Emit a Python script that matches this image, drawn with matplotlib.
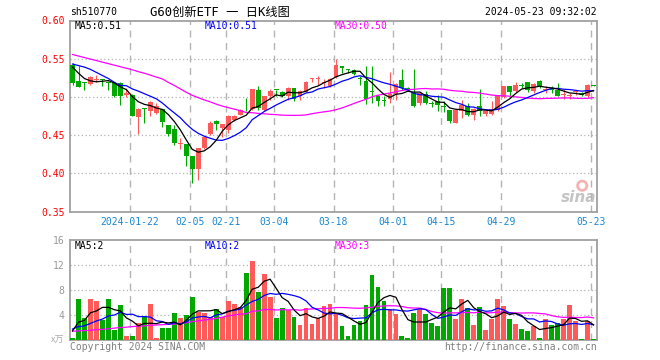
import matplotlib
matplotlib.use('Agg')
import matplotlib.pyplot as plt
import numpy as np
import pandas as pd

plt.rcParams['font.family'] = ['DejaVu Sans Mono', 'Noto Sans CJK SC']

# ---------------- data ----------------
holidays = ['2024-02-09', '2024-02-12', '2024-02-13', '2024-02-14', '2024-02-15',
            '2024-02-16', '2024-04-04', '2024-04-05', '2024-05-01', '2024-05-02',
            '2024-05-03']
dates = pd.bdate_range('2024-01-08', '2024-05-23').difference(pd.to_datetime(holidays))

tick_dates = ['2024-01-22', '2024-02-05', '2024-02-21', '2024-03-04', '2024-03-18',
              '2024-04-01', '2024-04-15', '2024-04-29', '2024-05-23']
tick_labels = ['2024-01-22', '02-05', '02-21', '03-04', '03-18',
               '04-01', '04-15', '04-29', '05-23']

opens = [0.542, 0.521, 0.5185, 0.517, 0.522, 0.522, 0.5185, 0.518, 0.518, 0.503,
         0.503, 0.4734, 0.4850, 0.4813, 0.4791, 0.4848, 0.4626, 0.4582, 0.4383, 0.4378,
         0.4225, 0.4051, 0.4325, 0.4508, 0.4691, 0.4595, 0.4573, 0.4695, 0.4769, 0.4826,
         0.4843, 0.5096, 0.4822, 0.5017, 0.5090, 0.5061, 0.5009, 0.5117, 0.5017, 0.5065,
         0.5230, 0.5232, 0.5185, 0.5140, 0.5257, 0.5409, 0.5358, 0.5357, 0.5237, 0.5213,
         0.5067, 0.5009, 0.4945, 0.4974, 0.5039, 0.5226, 0.5105, 0.5050, 0.4920, 0.5039,
         0.4912, 0.4943, 0.4868, 0.4834, 0.4660, 0.4813, 0.4878, 0.4769, 0.4878, 0.4782,
         0.4782, 0.4834, 0.4995, 0.5139, 0.5074, 0.5142, 0.5190, 0.5074, 0.5213, 0.5094,
         0.5098, 0.5096, 0.5026, 0.5015, 0.5058, 0.5052, 0.5009, 0.5152]
highs = [0.544, 0.540, 0.520, 0.527, 0.529, 0.5235, 0.5205, 0.519, 0.519, 0.511,
         0.504, 0.485, 0.4855, 0.4943, 0.4921, 0.4848, 0.4626, 0.4626, 0.4465, 0.4378,
         0.4225, 0.4334, 0.4487, 0.4682, 0.4704, 0.4647, 0.4769, 0.4760, 0.4843, 0.4987,
         0.5104, 0.5148, 0.5017, 0.5104, 0.5092, 0.5074, 0.5130, 0.5117, 0.5096, 0.5204,
         0.5248, 0.5278, 0.5235, 0.5248, 0.5490, 0.5409, 0.5365, 0.5365, 0.5270, 0.5400,
         0.5410, 0.5022, 0.5009, 0.5320, 0.5183, 0.5370, 0.5135, 0.5370, 0.5060, 0.5074,
         0.4943, 0.5022, 0.4943, 0.4834, 0.4834, 0.4965, 0.4921, 0.4856, 0.5104, 0.4813,
         0.4943, 0.5009, 0.5139, 0.5139, 0.5191, 0.5183, 0.5191, 0.5180, 0.5226, 0.5139,
         0.5139, 0.5183, 0.5100, 0.5050, 0.5080, 0.5065, 0.5165, 0.5152]
lows = [0.516, 0.5125, 0.509, 0.516, 0.519, 0.514, 0.5095, 0.5005, 0.490, 0.5005,
        0.4747, 0.4508, 0.4652, 0.4756, 0.4778, 0.4608, 0.4486, 0.4373, 0.4321, 0.4095,
        0.3877, 0.3917, 0.4313, 0.4499, 0.4573, 0.4473, 0.4530, 0.4690, 0.4760, 0.4813,
        0.4826, 0.4835, 0.4813, 0.4965, 0.5009, 0.4996, 0.4965, 0.4952, 0.4965, 0.5061,
        0.5191, 0.5160, 0.5117, 0.5130, 0.5248, 0.5313, 0.5313, 0.5287, 0.5150, 0.4908,
        0.4920, 0.4878, 0.4878, 0.4920, 0.4965, 0.5096, 0.5075, 0.4865, 0.4900, 0.4908,
        0.4865, 0.4813, 0.4804, 0.4660, 0.4660, 0.4726, 0.4747, 0.4704, 0.4756, 0.4756,
        0.4769, 0.4813, 0.4987, 0.5009, 0.5061, 0.5117, 0.5061, 0.5052, 0.5117, 0.5052,
        0.5052, 0.5009, 0.4978, 0.4978, 0.5030, 0.5009, 0.5000, 0.5148]
closes = [0.518, 0.5135, 0.518, 0.5265, 0.523, 0.5215, 0.518, 0.5017, 0.5017, 0.5045,
          0.4756, 0.4848, 0.4845, 0.4935, 0.4887, 0.4669, 0.4508, 0.4391, 0.4390, 0.4225,
          0.4051, 0.4325, 0.4478, 0.4660, 0.4647, 0.4639, 0.4747, 0.4756, 0.4835, 0.4822,
          0.5104, 0.4856, 0.5017, 0.5074, 0.5087, 0.5017, 0.5117, 0.4974, 0.5074, 0.5191,
          0.5236, 0.5240, 0.5190, 0.5235, 0.5413, 0.5378, 0.5354, 0.5300, 0.5233, 0.4974,
          0.5063, 0.4952, 0.4941, 0.5039, 0.5174, 0.5117, 0.5100, 0.4878, 0.5050, 0.4922,
          0.4908, 0.4900, 0.4865, 0.4682, 0.4834, 0.4891, 0.4769, 0.4848, 0.4813, 0.4813,
          0.4848, 0.5009, 0.5139, 0.5065, 0.5161, 0.5139, 0.5090, 0.5170, 0.5139, 0.5096,
          0.5094, 0.5017, 0.5035, 0.5020, 0.5061, 0.5030, 0.5152, 0.5148]
volumes = [0.4, 6.6, 3.6, 6.6, 6.3, 3.25, 6.6, 1.7, 5.65, 0.7,
           0.7, 2.77, 3.67, 5.8, 0.4, 2.0, 2.0, 4.37, 3.6, 4.05,
           6.93, 4.6, 4.37, 3.67, 5.0, 3.67, 6.29, 5.8, 5.33, 10.77,
           12.7, 7.8, 10.66, 6.93, 3.6, 5.17, 4.8, 3.7, 2.45, 5.17,
           2.6, 3.6, 5.5, 5.8, 4.27, 2.27, 0.7, 2.45, 3.15, 5.65,
           10.45, 8.53, 6.3, 4.96, 4.21, 0.7, 0.37, 4.37, 5.0, 4.21,
           2.72, 2.27, 8.37, 8.37, 3.44, 6.6, 5.17, 2.45, 5.33, 1.7,
           3.44, 6.6, 5.5, 3.44, 2.56, 1.81, 1.5, 2.35, 0.37, 3.44,
           2.45, 2.77, 3.44, 5.65, 3.15, 0.2, 3.15, 0.2]

# moving-average values at the left edge (window starts before the chart)
ma5_head = [0.539, 0.531, 0.524, 0.521]
ma10_head = [0.543, 0.541, 0.539, 0.536, 0.532, 0.528, 0.524, 0.519, 0.515]
ma30_head = [0.5555, 0.5535, 0.5515, 0.5495, 0.5475, 0.5455, 0.5435, 0.5415, 0.5395, 0.5375,
             0.5355, 0.533, 0.531, 0.5285, 0.526, 0.5235, 0.519, 0.515, 0.5105, 0.506,
             0.502, 0.499, 0.496, 0.4935, 0.4905, 0.488, 0.486, 0.484, 0.482]
vma5_head = [1.5, 2.9, 3.2, 4.4]
vma10_head = [1.8, 2.2, 2.3, 2.7, 3.1, 3.4, 3.9, 4.05, 4.5]
vma30_head = [1.45, 1.5, 1.55, 1.6, 1.7, 1.75, 1.85, 1.95, 2.05, 2.1,
              2.2, 2.25, 2.3, 2.4, 2.45, 2.5, 2.55, 2.6, 2.7, 2.8,
              3.0, 3.1, 3.25, 3.35, 3.5, 3.7, 3.9, 4.05, 4.2]


def moving_average(values, n, head):
    s = pd.Series(values, dtype=float).rolling(n).mean().to_numpy()
    s[:n - 1] = head
    return s


o = np.array(opens); h = np.array(highs); l = np.array(lows); c = np.array(closes)
v = np.array(volumes)
n = len(c)
ma5 = moving_average(c, 5, ma5_head)
ma10 = moving_average(c, 10, ma10_head)
ma30 = moving_average(c, 30, ma30_head)
vma5 = moving_average(v, 5, vma5_head)
vma10 = moving_average(v, 10, vma10_head)
vma30 = moving_average(v, 30, vma30_head)

RED = '#ff5a5a'
GREEN = '#00a800'
GRID = '#b4b4b4'
FRAME = '#a0a0a0'

W, H = 660, 360
fig = plt.figure(figsize=(6.6, 3.6), dpi=100)
ax = fig.add_axes([70 / W, 1 - 211.5 / H, 527 / W, 191 / H])
axv = fig.add_axes([70 / W, 1 - 340.3 / H, 527 / W, 100 / H])

x = np.arange(n) + 0.42
rising = c > o
colors = np.where(rising, RED, GREEN)
tick_idx = [dates.get_loc(pd.Timestamp(d)) for d in tick_dates]

# ---------------- price panel ----------------
ax.set_xlim(0, n)
ax.set_ylim(0.35, 0.60)
for t in tick_idx:
    ax.axvline(t, color=GRID, lw=1.0, ls=(0, (5, 4)), zorder=1)
for yv in [0.40, 0.45, 0.50, 0.55]:
    ax.axhline(yv, color=GRID, lw=0.9, ls=(0, (1, 2)), zorder=1)

ax.vlines(x, l, h, colors=colors, lw=0.8, zorder=2)
body = np.maximum(np.abs(c - o), 0.0013)
ax.bar(x, body, bottom=np.minimum(o, c), width=0.8, color=colors, lw=0, zorder=3)

ax.plot(x, ma30, color='#ff00ff', lw=0.9, zorder=4)
ax.plot(x, ma10, color='#0000ff', lw=0.9, zorder=5)
ax.plot(x, ma5, color='black', lw=0.9, zorder=6)

ax.set_yticks([0.35, 0.40, 0.45, 0.50, 0.55, 0.60])
ax.set_yticklabels([f'{t:.2f}' for t in [0.35, 0.40, 0.45, 0.50, 0.55, 0.60]],
                   color='#ff0000', fontsize=7)
ax.set_xticks(tick_idx)
ax.set_xticklabels(tick_labels, color='#1a86d0', fontsize=7)
ax.tick_params(length=0, pad=4)
for s in ax.spines.values():
    s.set_color(FRAME)
    s.set_linewidth(1.3)

ax.text(5 / 527, 1 - 5.5 / 191, f'MA5:{ma5[-1]:.2f}', transform=ax.transAxes,
        fontsize=7, color='black', va='center', ha='left')
ax.text(135 / 527, 1 - 5.5 / 191, f'MA10:{ma10[-1]:.2f}', transform=ax.transAxes,
        fontsize=7, color='#0000ff', va='center', ha='left')
ax.text(265 / 527, 1 - 5.5 / 191, f'MA30:{ma30[-1]:.2f}', transform=ax.transAxes,
        fontsize=7, color='#ff00ff', va='center', ha='left')

# sina watermark
ax.scatter([0.972], [0.135], s=45, transform=ax.transAxes, facecolors='none',
           edgecolors='#f4b4b4', lw=2.0, zorder=0)
ax.text(0.965, 0.075, 'sina', transform=ax.transAxes, fontsize=11, color='#c4c4c4',
        fontstyle='italic', fontweight='bold', ha='center', va='center',
        family='DejaVu Sans', zorder=0)

# ---------------- volume panel ----------------
axv.set_xlim(0, n)
axv.set_ylim(0, 16)
for t in tick_idx:
    axv.axvline(t, color=GRID, lw=1.0, ls=(0, (5, 4)), zorder=1)
for yv in [4, 8, 12]:
    axv.axhline(yv, color=GRID, lw=0.9, ls=(0, (1, 2)), zorder=1)
axv.bar(x, v, width=0.8, color=colors, lw=0, zorder=3)
axv.plot(x, vma30, color='#ff00ff', lw=0.9, zorder=4)
axv.plot(x, vma10, color='#0000ff', lw=0.9, zorder=5)
axv.plot(x, vma5, color='black', lw=0.9, zorder=6)
axv.set_yticks([4, 8, 12, 16])
axv.set_yticklabels(['4', '8', '12', '16'], color='#999999', fontsize=7)
axv.set_xticks([])
axv.tick_params(length=0, pad=4)
for s in axv.spines.values():
    s.set_color(FRAME)
    s.set_linewidth(1.3)

axv.text(5 / 527, 1 - 5.7 / 100, f'MA5:{int(vma5[-1])}', transform=axv.transAxes,
         fontsize=7, color='black', va='center', ha='left')
axv.text(135 / 527, 1 - 5.7 / 100, f'MA10:{int(vma10[-1])}', transform=axv.transAxes,
         fontsize=7, color='#0000ff', va='center', ha='left')
axv.text(265 / 527, 1 - 5.7 / 100, f'MA30:{int(vma30[-1])}', transform=axv.transAxes,
         fontsize=7, color='#ff00ff', va='center', ha='left')

# ---------------- header / footer texts ----------------
fig.text(70 / W, 1 - 12 / H, 'sh510770', fontsize=7, ha='left', va='center')
fig.text(150 / W, 1 - 12 / H, 'G60创新ETF 一 日K线图', fontsize=8.8, ha='left', va='center')
fig.text(597 / W, 1 - 12 / H, '2024-05-23 09:32:02', fontsize=7, ha='right', va='center')
fig.text(64 / W, 1 - 340 / H, 'x万', fontsize=6.5, color='#aaaaaa', ha='right', va='center',
         family=['Noto Sans CJK SC', 'DejaVu Sans'])
fig.text(70 / W, 1 - 346.5 / H, 'Copyright 2024 SINA.COM', fontsize=7, color='#808080',
         ha='left', va='center')
fig.text(597 / W, 1 - 346.5 / H, 'http://finance.sina.com.cn', fontsize=7, color='#808080',
         ha='right', va='center')

fig.savefig('out.png', dpi=100)
